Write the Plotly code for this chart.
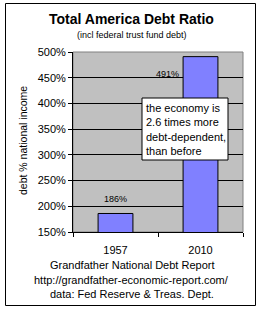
import plotly.graph_objects as go

years = ["1957", "2010"]
ratios = [186, 491]
label_text = ["186%", "491%"]
y_ticks = [150, 200, 250, 300, 350, 400, 450, 500]
y_tick_labels = ["150%", "200%", "250%", "300%", "350%", "400%", "450%", "500%"]
title = "Total America Debt Ratio"
subtitle = "(incl federal trust fund debt)"
y_title = "debt % national income"
note = "the economy is<br>2.6 times more<br>debt-dependent,<br>than before"
footer = ["Grandfather National Debt Report",
          "http://grandfather-economic-report.com/",
          "data: Fed Reserve & Treas. Dept."]

W, H = 263, 311
L, R, T, B = 73, 243, 52, 232
FONT = "Liberation Sans, Arial, sans-serif"


def px(x):
    return (x - L) / (R - L)


def py(y):
    return (B - y) / (B - T)


fig = go.Figure()
fig.add_trace(go.Bar(
    x=years, y=ratios, width=0.41,
    marker=dict(color="#8080FF", line=dict(color="black", width=1)),
    hoverinfo="skip",
))

shapes = [
    # outer frame
    dict(type="rect", xref="paper", yref="paper",
         x0=px(5.5), x1=px(255.5), y0=py(305.5), y1=py(3.5),
         line=dict(color="black", width=1), fillcolor="rgba(0,0,0,0)", layer="below"),
    # plot area
    dict(type="rect", xref="paper", yref="paper", x0=0, x1=1, y0=0, y1=1,
         line=dict(color="#808080", width=1), fillcolor="#C0C0C0", layer="below"),
    # note box
    dict(type="rect", xref="paper", yref="paper",
         x0=px(142), x1=px(228), y0=py(160), y1=py(98),
         line=dict(color="black", width=1), fillcolor="white", layer="above"),
]

annotations = [
    dict(text="<b>" + title + "</b>", x=px(131), y=py(19), xref="paper", yref="paper",
         showarrow=False, font=dict(size=14, family=FONT, color="black"),
         xanchor="center", yanchor="middle"),
    dict(text=subtitle, x=px(132), y=py(35), xref="paper", yref="paper",
         showarrow=False, font=dict(size=9, family=FONT, color="black"),
         xanchor="center", yanchor="middle"),
    dict(text=y_title, x=px(23), y=py(141), xref="paper", yref="paper",
         showarrow=False, textangle=-90, font=dict(size=10.5, family=FONT, color="black"),
         xanchor="center", yanchor="middle"),
    dict(text=note, x=px(143.5), y=py(100), xref="paper", yref="paper",
         showarrow=False, align="left", font=dict(size=11, family=FONT, color="black"),
         xanchor="left", yanchor="top"),
]
for i, line in enumerate(footer):
    annotations.append(dict(text=line, x=px(131.5), y=py(265 + i * 14.5),
                            xref="paper", yref="paper", showarrow=False,
                            font=dict(size=11, family=FONT, color="black"),
                            xanchor="center", yanchor="middle"))

shifts = [(0, 14), (-33, -17)]
for i, (v, t, (dx, dy)) in enumerate(zip(ratios, label_text, shifts)):
    annotations.append(dict(text=t, x=i, y=v, xref="x", yref="y", showarrow=False,
                            xshift=dx, yshift=dy,
                            font=dict(size=9, family=FONT, color="black"),
                            xanchor="center", yanchor="middle"))

fig.update_layout(
    width=W, height=H,
    margin=dict(l=L, r=W - R, t=T, b=H - B, pad=0),
    paper_bgcolor="white", plot_bgcolor="rgba(0,0,0,0)",
    showlegend=False, bargap=0.59,
    shapes=shapes, annotations=annotations,
    font=dict(family=FONT, color="black"),
)
fig.update_xaxes(
    type="category", range=[-0.5, 1.5], showgrid=False,
    showline=True, linecolor="black", linewidth=1,
    ticks="outside", tickson="boundaries", ticklen=4, tickcolor="black",
    tickfont=dict(size=11, family=FONT, color="black"), ticklabelstandoff=8,
)
fig.update_yaxes(
    range=[150, 500], tickvals=y_ticks, ticktext=y_tick_labels,
    showgrid=True, gridcolor="black", gridwidth=1,
    showline=True, linecolor="black", linewidth=1,
    ticks="outside", ticklen=4, tickcolor="black",
    tickfont=dict(size=11, family=FONT, color="black"), zeroline=False,
)

fig.write_html("out.html")
